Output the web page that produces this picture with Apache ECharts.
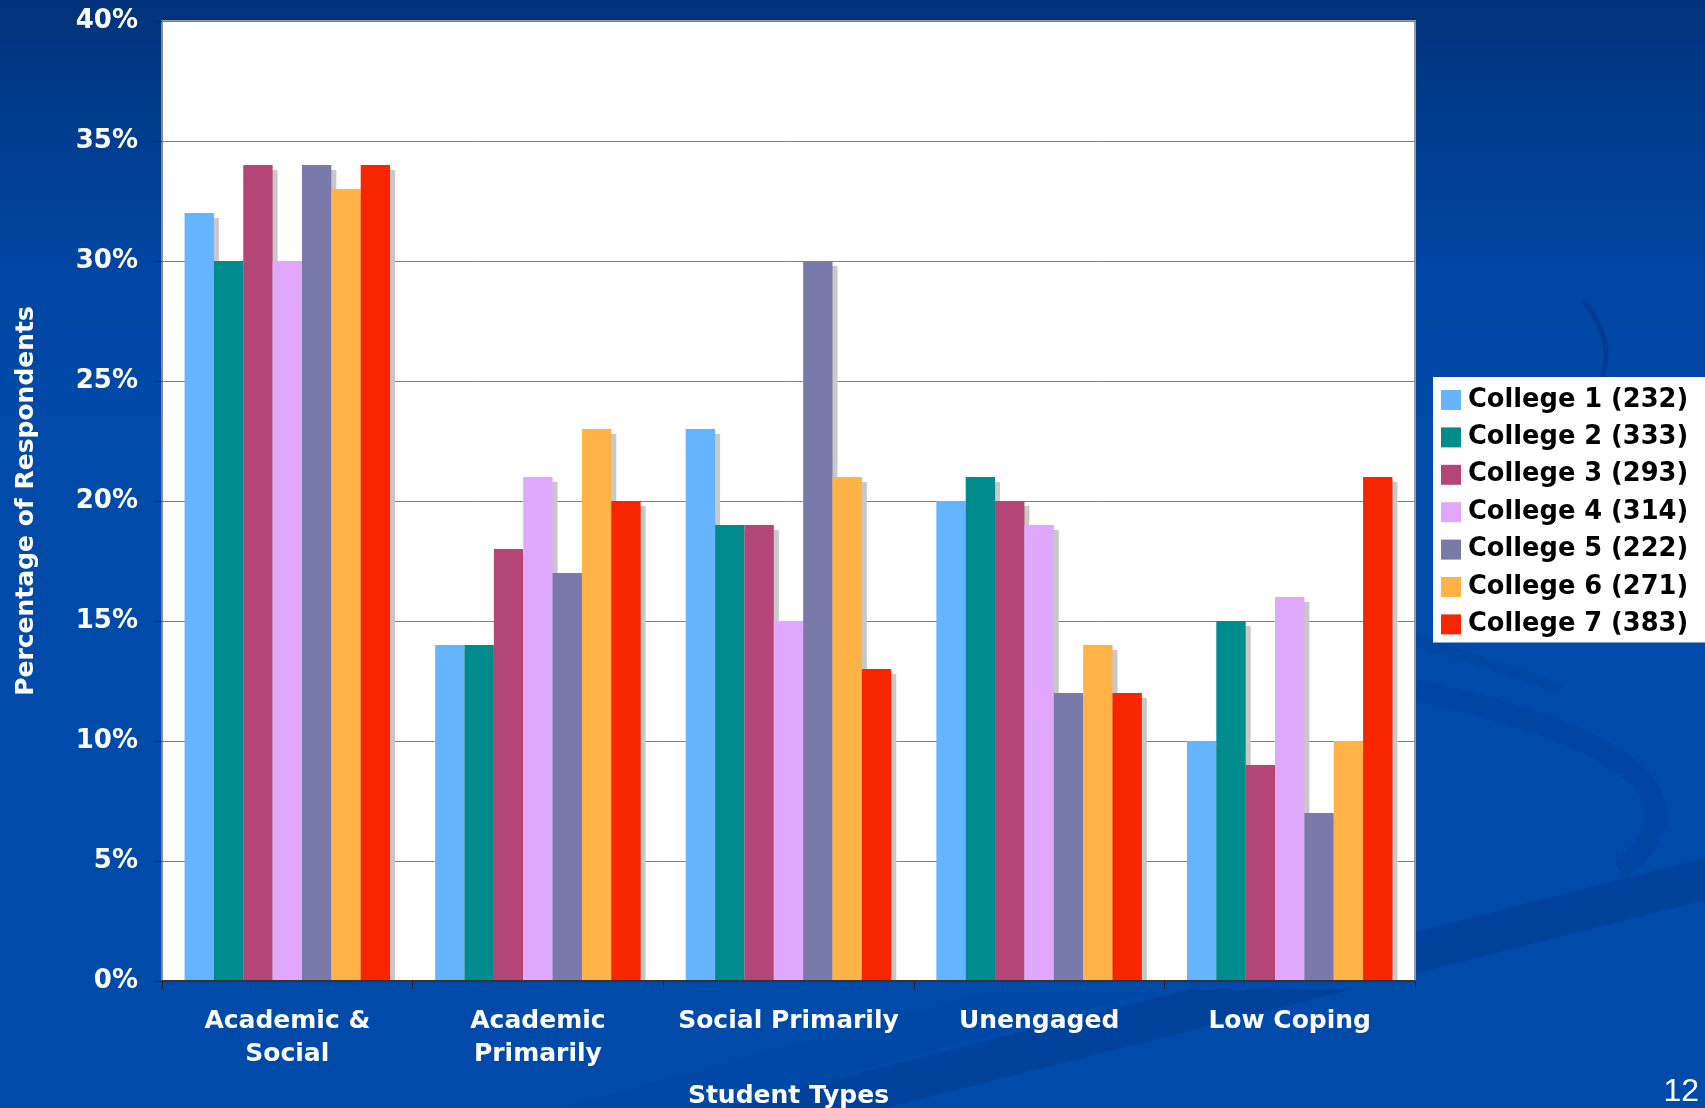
<!DOCTYPE html>
<html>
<head>
<meta charset="utf-8">
<script src="https://cdn.jsdelivr.net/npm/echarts@6/dist/echarts.min.js"></script>
<style>
  html, body { margin: 0; padding: 0; }
  #chart { width: 1705px; height: 1108px; }
</style>
</head>
<body>
<div id="chart"></div>
<script>
// Student types by college (percentage of respondents)
const categories = ['Academic &\nSocial', 'Academic\nPrimarily', 'Social Primarily', 'Unengaged', 'Low Coping'];
const seriesNames = [
  'College 1 (232)', 'College 2 (333)', 'College 3 (293)', 'College 4 (314)',
  'College 5 (222)', 'College 6 (271)', 'College 7 (383)'
];
const college1 = [32, 14, 23, 20, 10];
const college2 = [30, 14, 19, 21, 15];
const college3 = [34, 18, 19, 20, 9];
const college4 = [30, 21, 15, 19, 16];
const college5 = [34, 17, 30, 12, 7];
const college6 = [33, 23, 21, 14, 10];
const college7 = [34, 20, 13, 12, 21];
const seriesValues = [college1, college2, college3, college4, college5, college6, college7];
const yTicks = { min: 0, max: 40, interval: 5 };

const colors = ['#66b3ff', '#008c8c', '#b34577', '#dfa8fc', '#7979aa', '#ffb347', '#f72500'];
const FONT = '"DejaVu Sans", Verdana, sans-serif';
const SLIDE_BLUE = '#004aa9';

const chart = echarts.init(document.getElementById('chart'), null, { renderer: 'canvas' });

const series = seriesNames.map((name, i) => ({
  name: name,
  type: 'bar',
  data: seriesValues[i],
  barGap: '0%',
  barCategoryGap: '18%',
  itemStyle: {
    color: colors[i],
    shadowColor: '#c8c8c8',
    shadowBlur: 0,
    shadowOffsetX: 5,
    shadowOffsetY: 5
  },
  emphasis: { disabled: true }
}));

chart.setOption({
  animation: false,
  backgroundColor: {
    type: 'linear', x: 0, y: 0, x2: 0, y2: 1,
    colorStops: [
      { offset: 0, color: '#00337b' },
      { offset: 0.12, color: '#003d8f' },
      { offset: 0.25, color: '#0046a3' },
      { offset: 0.4, color: SLIDE_BLUE },
      { offset: 1, color: SLIDE_BLUE }
    ]
  },
  graphic: [
    // decorative swooshes of the slide background
    {
      type: 'polygon', z: -10, silent: true,
      shape: { points: [[1705, 858], [1705, 900], [884, 1108], [722, 1108]] },
      style: { fill: 'rgba(0, 48, 130, 0.33)' }
    },
    {
      type: 'bezierCurve', z: -10, silent: true,
      shape: { x1: 1415, y1: 690, cpx1: 1600, cpy1: 730, cpx2: 1720, cpy2: 790, x2: 1620, y2: 870 },
      style: { stroke: 'rgba(0, 50, 135, 0.18)', lineWidth: 22, fill: 'none' }
    },
    {
      type: 'bezierCurve', z: -10, silent: true,
      shape: { x1: 1415, y1: 640, cpx1: 1470, cpy1: 660, cpx2: 1520, cpy2: 670, x2: 1560, y2: 690 },
      style: { stroke: 'rgba(0, 50, 135, 0.15)', lineWidth: 10, fill: 'none' }
    },
    {
      type: 'bezierCurve', z: -10, silent: true,
      shape: { x1: 1583, y1: 300, cpx1: 1603, cpy1: 325, cpx2: 1612, cpy2: 350, x2: 1602, y2: 378 },
      style: { stroke: 'rgba(0, 40, 125, 0.4)', lineWidth: 5, fill: 'none' }
    },
    {
      type: 'polygon', z: -10, silent: true,
      shape: { points: [[560, 1108], [990, 992], [1150, 992], [720, 1108]] },
      style: { fill: 'rgba(0, 60, 150, 0.15)' }
    },
    // keeps the bar shadows inside the plot: masks the strip just under the axis
    {
      type: 'rect', z: 3, silent: true,
      shape: { x: 163, y: 982, width: 1262, height: 7 },
      style: { fill: SLIDE_BLUE }
    },
    {
      type: 'text', z: 10, silent: true,
      style: {
        text: '12', x: 1699, y: 1092, align: 'right', verticalAlign: 'middle',
        font: '32px "Liberation Sans", Arial, sans-serif', fill: '#ffffff'
      }
    }
  ],
  grid: {
    left: 162, top: 21, right: 290, bottom: 127,
    show: true,
    backgroundColor: '#ffffff',
    borderColor: '#9a9a9a',
    borderWidth: 2,
    containLabel: false,
    outerBoundsMode: 'none'
  },
  legend: {
    orient: 'vertical',
    left: 1433,
    top: 377,
    icon: 'rect',
    itemWidth: 20,
    itemHeight: 20,
    itemGap: 11.4,
    padding: [10, 17, 5, 8],
    backgroundColor: '#ffffff',
    selectedMode: false,
    data: seriesNames,
    textStyle: {
      fontFamily: FONT, fontWeight: 'bold', fontSize: 25.7, color: '#000000',
      padding: [0, 0, 0, 2]
    }
  },
  xAxis: {
    type: 'category',
    z: 5,
    data: categories,
    name: 'Student Types',
    nameLocation: 'middle',
    nameGap: 103,
    nameTextStyle: { fontFamily: FONT, fontWeight: 'bold', fontSize: 25, color: '#ffffff' },
    axisLine: { show: true, lineStyle: { color: '#333333', width: 2 } },
    axisTick: { show: true, length: 8, lineStyle: { color: '#222222', width: 1 } },
    axisLabel: {
      interval: 0, margin: 24, fontFamily: FONT, fontWeight: 'bold', fontSize: 25,
      lineHeight: 33, color: '#ffffff', align: 'center'
    },
    splitLine: { show: false }
  },
  yAxis: {
    type: 'value',
    min: yTicks.min,
    max: yTicks.max,
    interval: yTicks.interval,
    name: 'Percentage of Respondents',
    nameLocation: 'middle',
    nameGap: 123,
    nameTextStyle: { fontFamily: FONT, fontWeight: 'bold', fontSize: 25, color: '#ffffff' },
    axisLine: { show: true, lineStyle: { color: '#8a8a8a', width: 2 } },
    axisTick: { show: true, length: 8, lineStyle: { color: '#222222', width: 1 } },
    axisLabel: {
      formatter: '{value}%', margin: 24, fontFamily: FONT, fontWeight: 'bold',
      fontSize: 26, color: '#ffffff', padding: [5, 0, 0, 0]
    },
    splitLine: { show: true, lineStyle: { color: '#808080', width: 1 } }
  },
  series: series
});
</script>
</body>
</html>
